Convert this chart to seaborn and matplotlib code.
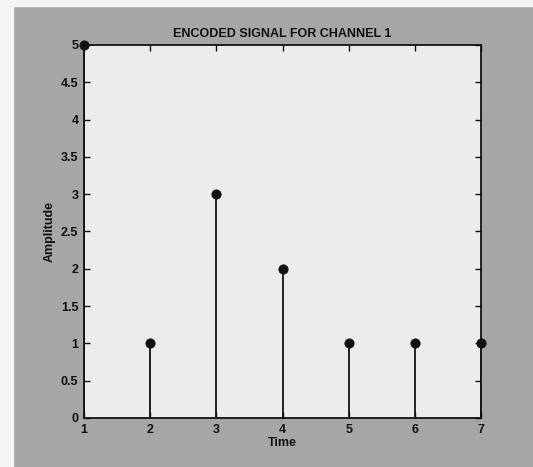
import matplotlib
matplotlib.use("Agg")
import matplotlib.pyplot as plt
from matplotlib.patches import Rectangle
import seaborn as sns

# encoded signal samples
time = [1, 2, 3, 4, 5, 6, 7]
amplitude = [5, 1, 3, 2, 1, 1, 1]
yticks = [0, 0.5, 1, 1.5, 2, 2.5, 3, 3.5, 4, 4.5, 5]
ytick_labels = ['0', '0.5', '1', '1.5', '2', '2.5', '3', '3.5', '4', '4.5', '5']

sns.set_style('ticks')
plt.rcParams['font.family'] = ['Liberation Sans Narrow', 'Liberation Sans', 'DejaVu Sans']
plt.rcParams['font.weight'] = 'bold'

fig = plt.figure(figsize=(5.33, 4.67), dpi=100, facecolor='#a6a6a6')
# white scan margins
fig.patches.append(Rectangle((0, 0), 13 / 533, 1, transform=fig.transFigure,
                             color='#f4f4f4', zorder=-1))
fig.patches.append(Rectangle((0, 1 - 6 / 467), 1, 6 / 467, transform=fig.transFigure,
                             color='#f4f4f4', zorder=-1))

ax = fig.add_axes([84 / 533, 1 - 418 / 467, (481 - 84) / 533, (418 - 45) / 467])
ax.set_facecolor('#ececec')

ax.vlines(time, 0, amplitude, color='#111111', linewidth=1.3, zorder=2)
sns.scatterplot(x=time, y=amplitude, ax=ax, color='#111111', s=45,
                edgecolor='#111111', zorder=3, clip_on=False)

ax.set_xlim(1, 7)
ax.set_ylim(0, 5)
ax.set_xticks(time)
ax.set_yticks(yticks)
ax.set_yticklabels(ytick_labels)
ax.tick_params(direction='in', length=4, width=1, labelsize=9, pad=4,
               top=True, right=True, colors='#111111')
for lbl in ax.get_xticklabels() + ax.get_yticklabels():
    lbl.set_fontweight('bold')
for s in ax.spines.values():
    s.set_linewidth(1.3)
    s.set_color('#111111')

ax.set_title('ENCODED SIGNAL FOR CHANNEL 1', fontsize=9, pad=6, color='#111111',
             fontweight='bold')
ax.set_xlabel('Time', fontsize=9, labelpad=1, color='#111111', fontweight='bold')
ax.set_ylabel('Amplitude', fontsize=9, labelpad=4, color='#111111', fontweight='bold')

fig.savefig('out.png', dpi=100, facecolor=fig.get_facecolor())
